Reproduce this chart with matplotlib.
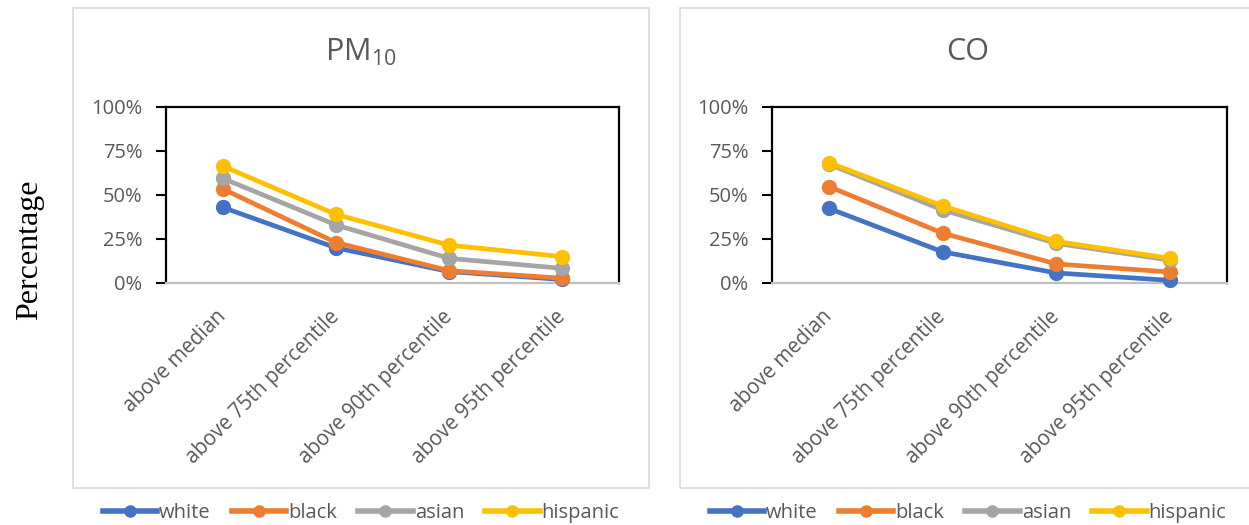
import matplotlib
matplotlib.use("Agg")
import matplotlib.pyplot as plt
from matplotlib.patches import Rectangle
from matplotlib.lines import Line2D
from matplotlib.ticker import PercentFormatter

plt.rcParams["font.family"] = ["Open Sans", "DejaVu Sans"]
plt.rcParams["mathtext.fontset"] = "custom"
plt.rcParams["mathtext.rm"] = "Open Sans"
plt.rcParams["mathtext.it"] = "Open Sans:italic"

categories = ["above median", "above 75th percentile",
              "above 90th percentile", "above 95th percentile"]
groups = ["white", "black", "asian", "hispanic"]
colors = ["#4472C4", "#ED7D31", "#A5A5A5", "#FFC000"]

# share of each group living in areas above the given pollution level
pm10_white = [0.43, 0.20, 0.065, 0.02]
pm10_black = [0.535, 0.23, 0.07, 0.027]
pm10_asian = [0.595, 0.33, 0.14, 0.083]
pm10_hispanic = [0.665, 0.39, 0.215, 0.15]

co_white = [0.424, 0.177, 0.057, 0.015]
co_black = [0.548, 0.283, 0.108, 0.062]
co_asian = [0.675, 0.415, 0.225, 0.13]
co_hispanic = [0.684, 0.438, 0.236, 0.14]

panels = [
    ("PM$_{10}$", [pm10_white, pm10_black, pm10_asian, pm10_hispanic]),
    ("CO", [co_white, co_black, co_asian, co_hispanic]),
]

W, H = 1249, 525
fig = plt.figure(figsize=(W / 100, H / 100), dpi=100)

def fx(px):
    return px / W

def fy(py):
    return 1 - py / H

text_grey = "#595959"
boxes = [(73, 649), (680, 1256)]
axes_px = [(166, 619), (772, 1227)]
ax_top, ax_bot = 107, 283

for (title, series), (bx0, bx1), (ax0, ax1) in zip(panels, boxes, axes_px):
    # light grey chart-area border
    fig.patches.append(Rectangle((fx(bx0), fy(488)), fx(bx1 - bx0), (488 - 8) / H,
                                 transform=fig.transFigure, fill=False,
                                 edgecolor="#d9d9d9", lw=1.2, zorder=0))
    ax = fig.add_axes([fx(ax0), fy(ax_bot), fx(ax1 - ax0), (ax_bot - ax_top) / H])
    x = list(range(len(categories)))
    for vals, c, g in zip(series, colors, groups):
        ax.plot(x, vals, color=c, lw=3.4, marker="o", ms=10, label=g,
                solid_capstyle="round", zorder=3, clip_on=False)
    ax.set_xlim(-0.5, len(categories) - 0.5)
    ax.set_ylim(0, 1)
    ax.set_yticks([0, 0.25, 0.5, 0.75, 1.0])
    ax.yaxis.set_major_formatter(PercentFormatter(1.0, decimals=0))
    ax.set_xticks(x)
    ax.set_xticklabels(categories, rotation=45, ha="right", va="center",
                       rotation_mode="anchor")
    ax.tick_params(axis="x", length=0, pad=22, labelsize=14.8, labelcolor=text_grey)
    ax.tick_params(axis="y", length=7, width=1.5, direction="out", pad=10,
                   labelsize=14.5, labelcolor=text_grey, color="black")
    for s in ("top", "left", "right"):
        ax.spines[s].set_color("black")
        ax.spines[s].set_linewidth(1.6)
    ax.spines["bottom"].set_color("#bfbfbf")
    ax.spines["bottom"].set_linewidth(1.6)

    cx = (bx0 + bx1) / 2
    fig.text(fx(cx), fy(52), title, ha="center", va="center",
             fontsize=22, color=text_grey)

    handles = [Line2D([], [], color=c, lw=4, marker="o", ms=8) for c in colors]
    fig.legend(handles, groups, loc="center", bbox_to_anchor=(fx(cx), fy(513)),
               ncol=4, frameon=False, fontsize=14.5, handlelength=2.7,
               handletextpad=0.1, columnspacing=1.05, labelcolor=text_grey,
               borderaxespad=0)

fig.text(fx(30), fy(250), "Percentage", rotation=90, ha="center", va="center",
         fontsize=23, family="Liberation Serif", color="black")

fig.savefig("out.png", dpi=100)
